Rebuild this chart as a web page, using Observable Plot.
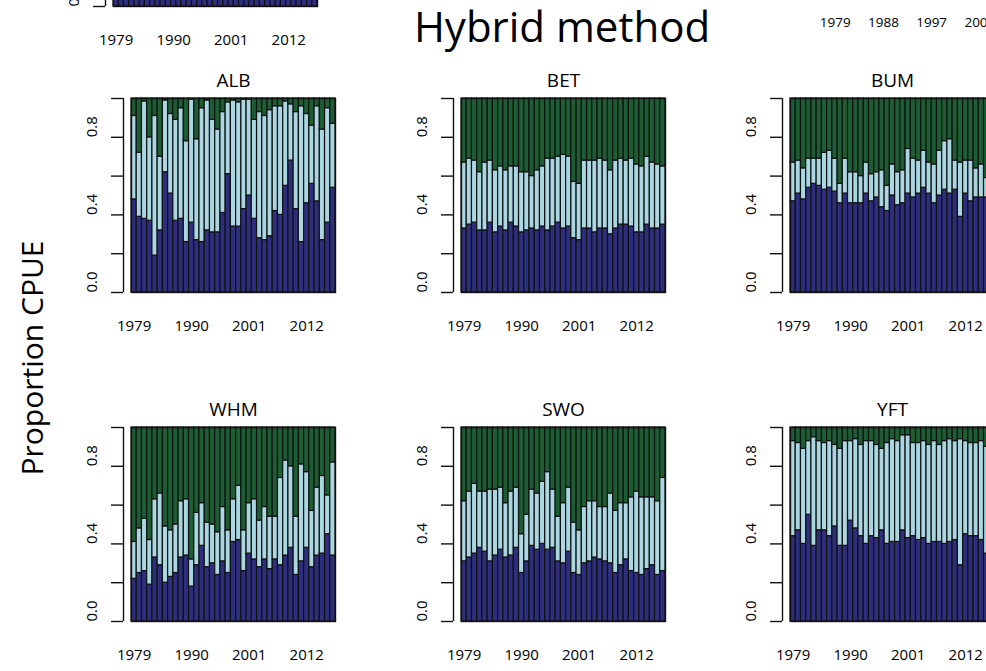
<!DOCTYPE html>
<html>
<head>
<meta charset="utf-8">
<script src="https://cdn.jsdelivr.net/npm/d3@7"></script>
<script src="https://cdn.jsdelivr.net/npm/@observablehq/plot@0.6"></script>
<style>
  html, body { margin: 0; padding: 0; background: #fff; overflow: hidden; }
  #page { position: relative; width: 986px; height: 671px; overflow: hidden; font-family: "Open Sans", sans-serif; color: #000; }
  #page svg { position: absolute; }
  #title { position: absolute; left: 262px; width: 600px; top: 3px; text-align: center; font-size: 42px; line-height: 46px; white-space: nowrap; }
  #ylab { position: absolute; left: 31px; top: 358px; transform: translate(-50%, -50%) rotate(-90deg); font-size: 30px; white-space: nowrap; }
</style>
</head>
<body>
<div id="page">
  <div id="title">Hybrid method</div>
  <div id="ylab">Proportion CPUE</div>
</div>
<script>
// Years on the x axis and the labelled subset
const years = [1979,1980,1981,1982,1983,1984,1985,1986,1987,1988,1989,1990,1991,1992,1993,1994,1995,1996,1997,1998,
               1999,2000,2001,2002,2003,2004,2005,2006,2007,2008,2009,2010,2011,2012,2013,2014,2015,2016,2017];
const yearLabels = [1979, 1990, 2001, 2012];
const upperYearLabels = [1979, 1988, 1997, 2006];
const yTicks = [0, 0.2, 0.4, 0.6, 0.8, 1];
const yLabels = [0, 0.4, 0.8];

// Stack components, bottom to top
const parts = ["lower", "middle", "upper"];
const partColors = ["#2d2e7e", "#a9d6e1", "#1c5d34"];

// Cumulative proportions per species: top of the dark-blue band and top of the light-blue band
const ALB_low = [0.48,0.39,0.38,0.37,0.19,0.32,0.62,0.51,0.37,0.38,0.26,0.36,0.27,0.26,0.32,0.31,0.31,0.41,0.61,0.34,
                 0.34,0.43,0.50,0.38,0.28,0.27,0.29,0.42,0.40,0.55,0.68,0.43,0.26,0.46,0.56,0.47,0.27,0.36,0.54];
const ALB_mid = [0.91,0.72,0.985,0.80,0.91,0.70,0.99,0.92,0.89,0.95,0.78,0.995,0.79,0.95,0.99,0.89,0.84,0.93,0.98,0.99,
                 0.98,0.995,0.995,0.89,0.93,0.91,0.94,0.96,0.96,0.985,0.97,0.93,0.96,0.92,0.86,0.96,0.84,0.95,0.87];

const BET_low = [0.33,0.35,0.36,0.32,0.32,0.36,0.31,0.34,0.32,0.36,0.34,0.31,0.32,0.33,0.32,0.34,0.32,0.34,0.36,0.33,
                 0.34,0.28,0.27,0.33,0.33,0.31,0.33,0.33,0.30,0.33,0.35,0.35,0.34,0.31,0.31,0.35,0.33,0.33,0.35];
const BET_mid = [0.67,0.69,0.68,0.62,0.67,0.68,0.63,0.65,0.63,0.65,0.65,0.62,0.62,0.60,0.63,0.65,0.69,0.69,0.70,0.71,
                 0.70,0.57,0.56,0.68,0.68,0.68,0.69,0.68,0.63,0.68,0.69,0.68,0.69,0.66,0.65,0.70,0.67,0.66,0.65];

const BUM_low = [0.47,0.51,0.48,0.54,0.56,0.55,0.53,0.54,0.52,0.46,0.51,0.46,0.46,0.46,0.51,0.47,0.49,0.44,0.42,0.50,
                 0.45,0.46,0.51,0.49,0.51,0.54,0.51,0.46,0.50,0.53,0.51,0.53,0.39,0.51,0.47,0.49,0.49,0.49,0.49];
const BUM_mid = [0.67,0.68,0.64,0.69,0.69,0.69,0.72,0.73,0.69,0.56,0.69,0.62,0.62,0.60,0.67,0.61,0.62,0.63,0.55,0.66,
                 0.62,0.63,0.74,0.69,0.68,0.73,0.67,0.66,0.73,0.78,0.79,0.68,0.67,0.68,0.68,0.64,0.66,0.59,0.62];

const WHM_low = [0.22,0.25,0.26,0.19,0.33,0.29,0.20,0.23,0.25,0.33,0.34,0.18,0.29,0.39,0.28,0.30,0.24,0.31,0.25,0.41,
                 0.42,0.26,0.35,0.32,0.28,0.32,0.27,0.32,0.29,0.34,0.38,0.24,0.31,0.38,0.28,0.34,0.35,0.45,0.34];
const WHM_mid = [0.41,0.48,0.53,0.42,0.63,0.66,0.49,0.47,0.50,0.62,0.63,0.32,0.56,0.61,0.51,0.50,0.46,0.59,0.47,0.63,
                 0.70,0.47,0.61,0.63,0.52,0.59,0.54,0.54,0.74,0.83,0.80,0.54,0.81,0.77,0.57,0.69,0.75,0.65,0.82];

const SWO_low = [0.31,0.33,0.35,0.38,0.36,0.31,0.34,0.37,0.33,0.34,0.38,0.25,0.31,0.39,0.37,0.40,0.37,0.38,0.31,0.30,
                 0.36,0.25,0.24,0.30,0.31,0.33,0.32,0.31,0.30,0.25,0.29,0.32,0.26,0.25,0.24,0.27,0.29,0.24,0.26];
const SWO_mid = [0.62,0.67,0.71,0.67,0.67,0.68,0.68,0.69,0.61,0.67,0.69,0.45,0.55,0.68,0.66,0.72,0.77,0.68,0.54,0.61,
                 0.69,0.51,0.47,0.59,0.62,0.62,0.59,0.59,0.66,0.57,0.61,0.61,0.64,0.67,0.64,0.64,0.64,0.62,0.74];

const YFT_low = [0.44,0.47,0.40,0.55,0.39,0.47,0.47,0.44,0.49,0.39,0.39,0.52,0.48,0.44,0.40,0.44,0.43,0.47,0.40,0.41,
                 0.41,0.47,0.43,0.44,0.42,0.43,0.40,0.41,0.41,0.40,0.41,0.42,0.29,0.45,0.44,0.44,0.42,0.35,0.40];
const YFT_mid = [0.93,0.92,0.89,0.93,0.95,0.93,0.92,0.93,0.91,0.89,0.93,0.93,0.94,0.91,0.93,0.93,0.91,0.89,0.92,0.94,
                 0.93,0.96,0.96,0.92,0.92,0.93,0.91,0.93,0.91,0.93,0.94,0.93,0.94,0.93,0.92,0.92,0.93,0.90,0.92];

const species = ["ALB", "BET", "BUM", "WHM", "SWO", "YFT"];
const lowSeries = [ALB_low, BET_low, BUM_low, WHM_low, SWO_low, YFT_low];
const midSeries = [ALB_mid, BET_mid, BUM_mid, WHM_mid, SWO_mid, YFT_mid];

// Part of the dark base visible from the panel that sits above this block
const upperBlockBase = 0.05;

// Panel geometry
const PW = 204, PH = 194;
const ML = 70, MR = 10, MT = 40, MB = 50;
const colLeft = [131, 461, 790];
const rowTop = [98, 427];
const page = document.getElementById("page");

function stackRows(low, mid) {
  const rows = [];
  years.forEach((yr, i) => {
    rows.push({year: yr, y1: 0, y2: low[i], part: "lower"});
    rows.push({year: yr, y1: low[i], y2: mid[i], part: "middle"});
    rows.push({year: yr, y1: mid[i], y2: 1, part: "upper"});
  });
  return rows;
}

function panel(rows, title, left, top) {
  const x0 = years[0] - 0.5, x1 = years[years.length - 1] + 0.5;
  const marks = [
    Plot.rectY(rows, {x1: d => d.year - 0.5, x2: d => d.year + 0.5, y1: "y1", y2: "y2",
                      fill: "part", stroke: "#111", strokeWidth: 1.2}),
    Plot.frame({stroke: "#111", strokeWidth: 1.4}),
    Plot.ruleX([x0], {y1: 0, y2: 1, dx: -8, stroke: "#111", strokeWidth: 1.4}),
    Plot.axisY({ticks: yTicks, tickSize: 12, dx: -8, stroke: "#111", strokeWidth: 1.4, fill: "none", label: null}),
    Plot.text(yLabels, {y: d => d, text: d => d3.format(".1f")(d), frameAnchor: "left", dx: -39,
                        rotate: -90, fontSize: 15, fill: "#000"}),
    Plot.axisX({ticks: yearLabels, tickSize: 0, tickPadding: 28, tickFormat: d => String(d),
                fontSize: 15, fill: "#000", label: null})
  ];
  if (title) marks.push(Plot.text([title], {frameAnchor: "top", lineAnchor: "middle", dy: -18,
                                            fontSize: 19, fill: "#000"}));
  const svg = Plot.plot({
    width: PW + ML + MR, height: PH + MT + MB,
    marginLeft: ML, marginRight: MR, marginTop: MT, marginBottom: MB,
    style: {fontFamily: "'Open Sans', sans-serif", background: "transparent", maxWidth: "none", overflow: "visible", color: "#000"},
    x: {domain: [x0, x1]},
    y: {domain: [0, 1]},
    color: {domain: parts, range: partColors},
    marks
  });
  svg.style.left = (left - ML) + "px";
  svg.style.top = (top - MT) + "px";
  page.appendChild(svg);
}

// Bottom edge of the panel above this block
const baseRows = years.map(yr => ({year: yr, y1: 0, y2: upperBlockBase, part: "lower"}));
panel(baseRows, null, 113, 6 - PH);

// Year axis of the neighbouring block (top right)
{
  const w = 209;
  const svg = Plot.plot({
    width: w + 20, height: 30, marginLeft: 10, marginRight: 10, marginTop: 0, marginBottom: 29,
    style: {fontFamily: "'Open Sans', sans-serif", background: "transparent", maxWidth: "none", overflow: "visible", color: "#000"},
    x: {domain: [years[0] - 0.5, years[years.length - 1] + 0.5]},
    marks: [Plot.axisX({ticks: upperYearLabels, tickSize: 0, tickPadding: 7, tickFormat: d => String(d),
                        fontSize: 13.5, fill: "#000", label: null})]
  });
  svg.style.left = (832 - 10) + "px";
  svg.style.top = (10 - 1) + "px";
  page.appendChild(svg);
}

// Six species panels, three per row
species.forEach((sp, k) => {
  const r = Math.floor(k / 3), c = k % 3;
  panel(stackRows(lowSeries[k], midSeries[k]), sp, colLeft[c], rowTop[r]);
});
</script>
</body>
</html>
